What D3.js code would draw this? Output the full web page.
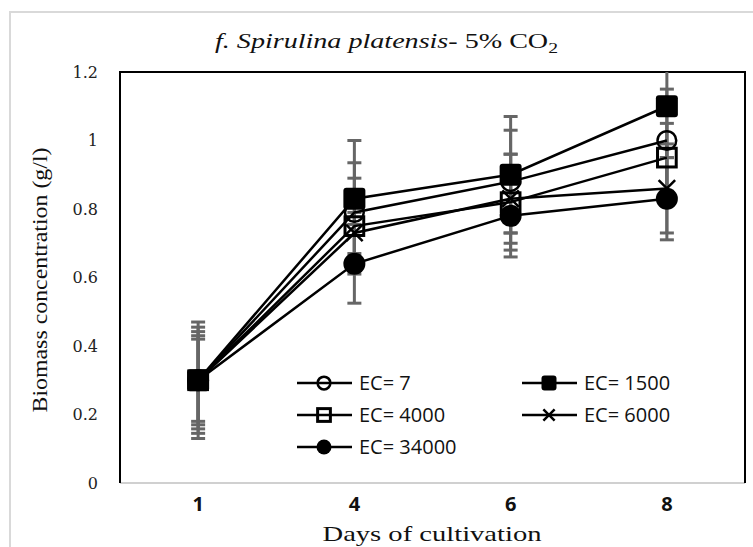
<!DOCTYPE html>
<html>
<head>
<meta charset="utf-8">
<script src="https://cdn.jsdelivr.net/npm/d3@7"></script>
<style>
  body { margin: 0; background: #fff; }
</style>
</head>
<body>
<div id="chart"></div>
<script>
// data
var days = ["1", "4", "6", "8"];
var seriesNames = ["EC= 7", "EC= 1500", "EC= 4000", "EC= 6000", "EC= 34000"];
var ec7 = [0.30, 0.79, 0.88, 1.00];
var ec1500 = [0.30, 0.83, 0.90, 1.10];
var ec4000 = [0.30, 0.75, 0.82, 0.95];
var ec6000 = [0.30, 0.73, 0.83, 0.86];
var ec34000 = [0.30, 0.64, 0.78, 0.83];
// +/- error for each point
var err7 = [0.155, 0.145, 0.15, 0.15];
var err1500 = [0.17, 0.17, 0.17, 0.15];
var err4000 = [0.142, 0.14, 0.14, 0.10];
var err6000 = [0.13, 0.06, 0.13, 0.13];
var err34000 = [0.12, 0.115, 0.12, 0.12];
var yTicks = [0, 0.2, 0.4, 0.6, 0.8, 1, 1.2];

var WIDTH = 753, HEIGHT = 547;
var MARGIN = { LEFT: 120, RIGHT: 8, TOP: 72, BOTTOM: 64 };

var series = [
    { name: seriesNames[0], values: ec7, errs: err7, shape: "circleOpen" },
    { name: seriesNames[1], values: ec1500, errs: err1500, shape: "squareFilled" },
    { name: seriesNames[2], values: ec4000, errs: err4000, shape: "squareOpen" },
    { name: seriesNames[3], values: ec6000, errs: err6000, shape: "cross" },
    { name: seriesNames[4], values: ec34000, errs: err34000, shape: "circleFilled" }
];

var svg = d3.select("#chart")
    .append("svg")
    .attr("width", WIDTH)
    .attr("height", HEIGHT);

// outer light frame of the chart area
svg.append("rect")
    .attr("x", 10).attr("y", 12)
    .attr("width", WIDTH + 20).attr("height", HEIGHT + 20)
    .attr("fill", "none")
    .attr("stroke", "#d9d9d9")
    .attr("stroke-width", 2);

var x = d3.scaleBand()
    .domain(days)
    .range([MARGIN.LEFT, WIDTH - MARGIN.RIGHT]);

var y = d3.scaleLinear()
    .domain([0, 1.2])
    .range([HEIGHT - MARGIN.BOTTOM, MARGIN.TOP]);

function cx(i) { return x(days[i]) + x.bandwidth() / 2; }

svg.append("clipPath").attr("id", "plotClip")
    .append("rect")
    .attr("x", MARGIN.LEFT).attr("y", MARGIN.TOP)
    .attr("width", WIDTH - MARGIN.RIGHT - MARGIN.LEFT)
    .attr("height", HEIGHT - MARGIN.BOTTOM - MARGIN.TOP);

// y axis labels (no tick marks)
var yAxis = svg.append("g")
    .attr("transform", "translate(" + MARGIN.LEFT + ",0)")
    .call(d3.axisLeft(y).tickValues(yTicks).tickSize(0).tickPadding(22).tickFormat(d3.format("")));
yAxis.select(".domain").remove();
yAxis.selectAll("text")
    .style("font-family", "DejaVu Serif")
    .style("font-size", "16px")
    .attr("fill", "#222");

// x axis labels
var xAxis = svg.append("g")
    .attr("transform", "translate(0," + (HEIGHT - MARGIN.BOTTOM) + ")")
    .call(d3.axisBottom(x).tickSize(0).tickPadding(14));
xAxis.select(".domain").remove();
xAxis.selectAll("text")
    .style("font-family", "Open Sans")
    .style("font-weight", "bold")
    .style("font-size", "20px")
    .attr("fill", "#111");

// plot frame: gray bottom, black left / top / right
svg.append("line")
    .attr("x1", MARGIN.LEFT).attr("x2", WIDTH - MARGIN.RIGHT)
    .attr("y1", y(0)).attr("y2", y(0))
    .attr("stroke", "#d0d0d0").attr("stroke-width", 2);
svg.append("path")
    .attr("d", "M" + MARGIN.LEFT + "," + y(0) + "V" + y(1.2) + "H" + (WIDTH - MARGIN.RIGHT) + "V" + y(0))
    .attr("fill", "none")
    .attr("stroke", "#000")
    .attr("stroke-width", 2);

var plot = svg.append("g").attr("clip-path", "url(#plotClip)");

// error bars
series.forEach(function(s) {
    s.values.forEach(function(v, i) {
        var hi = y(v + s.errs[i]), lo = y(v - s.errs[i]);
        var g = plot.append("g").attr("stroke", "#666").attr("stroke-width", 3);
        g.append("line").attr("x1", cx(i)).attr("x2", cx(i)).attr("y1", hi).attr("y2", lo);
        g.append("line").attr("x1", cx(i) - 7).attr("x2", cx(i) + 7).attr("y1", hi).attr("y2", hi);
        g.append("line").attr("x1", cx(i) - 7).attr("x2", cx(i) + 7).attr("y1", lo).attr("y2", lo);
    });
});

// lines
var line = d3.line()
    .x(function(d, i) { return cx(i); })
    .y(function(d) { return y(d); });

series.forEach(function(s) {
    plot.append("path")
        .datum(s.values)
        .attr("d", line)
        .attr("fill", "none")
        .attr("stroke", "#000")
        .attr("stroke-width", 2.5);
});

function drawMarker(g, shape, px, py, size) {
    var r = size / 2;
    if (shape == "circleOpen") {
        g.append("circle").attr("cx", px).attr("cy", py).attr("r", r * 0.85)
            .attr("fill", "none").attr("stroke", "#000").attr("stroke-width", 2.5);
    } else if (shape == "circleFilled") {
        g.append("circle").attr("cx", px).attr("cy", py).attr("r", r).attr("fill", "#000");
    } else if (shape == "squareFilled") {
        g.append("rect").attr("x", px - r).attr("y", py - r).attr("width", size).attr("height", size)
            .attr("rx", 3).attr("fill", "#000");
    } else if (shape == "squareOpen") {
        var q = r * 0.85;
        g.append("rect").attr("x", px - q).attr("y", py - q).attr("width", q * 2).attr("height", q * 2)
            .attr("fill", "none").attr("stroke", "#000").attr("stroke-width", 3);
    } else {
        var c = r * 0.75;
        g.append("path")
            .attr("d", "M" + (px - c) + "," + (py - c) + "L" + (px + c) + "," + (py + c) +
                "M" + (px - c) + "," + (py + c) + "L" + (px + c) + "," + (py - c))
            .attr("stroke", "#000").attr("stroke-width", 2.5);
    }
}

// markers
series.forEach(function(s) {
    s.values.forEach(function(v, i) {
        drawMarker(plot, s.shape, cx(i), y(v), 22);
    });
});

// legend, two columns
var legendPos = [[297, 383], [522, 383], [297, 415], [522, 415], [297, 447]];
series.forEach(function(s, k) {
    var lx = legendPos[k][0], ly = legendPos[k][1];
    var g = svg.append("g");
    g.append("line").attr("x1", lx).attr("x2", lx + 55).attr("y1", ly).attr("y2", ly)
        .attr("stroke", "#000").attr("stroke-width", 2.5);
    drawMarker(g, s.shape, lx + 27, ly, 15);
    g.append("text")
        .attr("x", lx + 62).attr("y", ly)
        .attr("dy", "0.36em")
        .style("font-family", "Open Sans")
        .style("font-size", "20px")
        .attr("fill", "#111")
        .text(s.name);
});

// title
var title = svg.append("text")
    .attr("x", 215).attr("y", 48)
    .attr("textLength", 343)
    .attr("lengthAdjust", "spacingAndGlyphs")
    .style("font-family", "Liberation Serif")
    .style("font-size", "20px")
    .attr("fill", "#111");
title.append("tspan").style("font-style", "italic").text("f. Spirulina platensis");
title.append("tspan").text("- 5% CO");
title.append("tspan").attr("dy", 5).style("font-size", "14px").text("2");

// axis titles
svg.append("text")
    .attr("x", 432).attr("y", 541)
    .attr("text-anchor", "middle")
    .attr("textLength", 219)
    .attr("lengthAdjust", "spacingAndGlyphs")
    .style("font-family", "Liberation Serif")
    .style("font-size", "22px")
    .attr("fill", "#111")
    .text("Days  of cultivation");

svg.append("text")
    .attr("transform", "translate(47," + 280 + ") rotate(-90)")
    .attr("text-anchor", "middle")
    .attr("textLength", 265)
    .attr("lengthAdjust", "spacingAndGlyphs")
    .style("font-family", "Liberation Serif")
    .style("font-size", "21px")
    .attr("fill", "#111")
    .text("Biomass concentration (g/l)");
</script>
</body>
</html>
